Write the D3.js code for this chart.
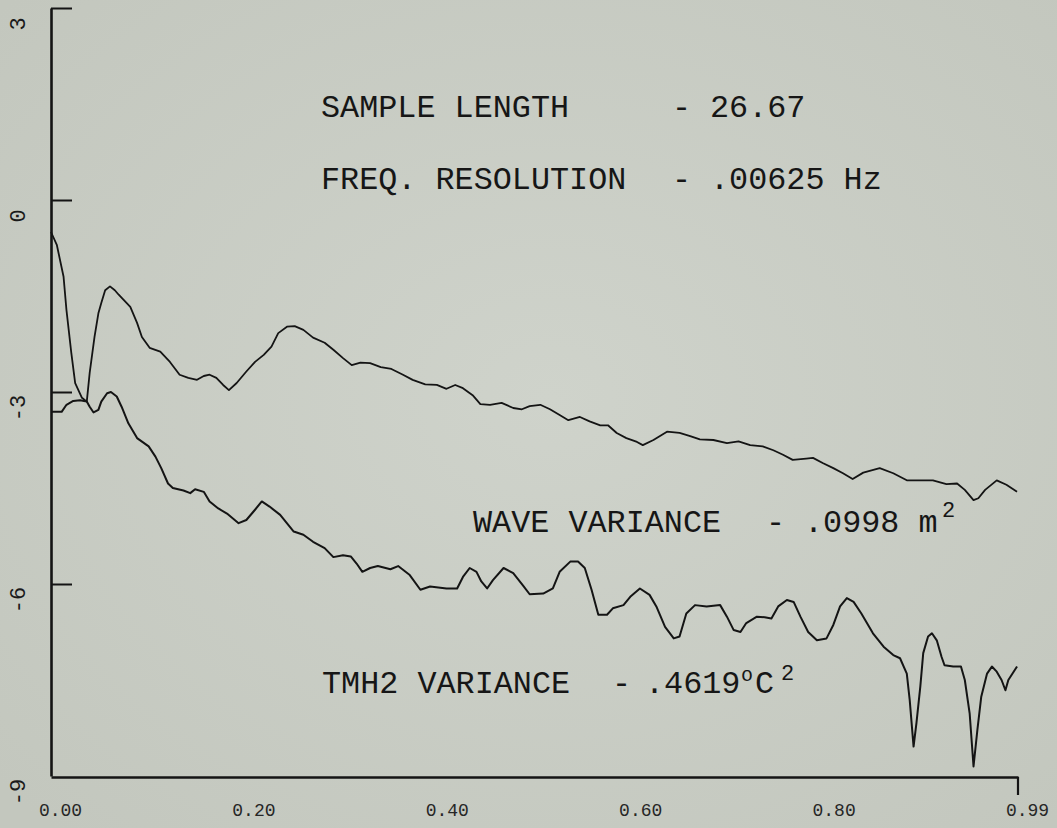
<!DOCTYPE html>
<html><head><meta charset="utf-8">
<script src="https://cdn.jsdelivr.net/npm/d3@7"></script>
<style>html,body{margin:0;padding:0;background:#cacdc5;} svg{display:block}</style>
</head><body><svg id="c" width="1057" height="828"></svg>
<script>
// ---- data ----
const upperFreq = [0,.006,.013,.016,.021,.025,.032,.037,.040,.045,
 .049,.052,.056,.061,.066,.070,.082,.089,.094,.102,
 .113,.123,.133,.142,.151,.158,.164,.171,.178,.184,
 .192,.202,.211,.220,.228,.235,.244,.252,.261,.271,
 .283,.292,.302,.311,.320,.330,.341,.352,.364,.374,
 .387,.399,.409,.418,.426,.436,.444,.454,.466,.478,
 .487,.495,.506,.516,.526,.535,.547,.557,.568,.576,
 .585,.595,.606,.612,.623,.637,.650,.661,.671,.685,
 .699,.711,.723,.736,.747,.757,.767,.781,.788,.798,
 .809,.819,.829,.840,.857,.871,.885,.899,.912,.926,
 .937,.945,.954,.959,.966,.978,.988,.999];
const upperLog = [-0.50,-0.70,-1.20,-1.72,-2.39,-2.86,-3.09,-3.15,-2.70,-2.14,
 -1.77,-1.61,-1.41,-1.35,-1.41,-1.48,-1.67,-1.92,-2.14,-2.31,
 -2.37,-2.53,-2.73,-2.78,-2.81,-2.75,-2.73,-2.78,-2.89,-2.97,
 -2.86,-2.68,-2.53,-2.42,-2.29,-2.08,-1.98,-1.97,-2.03,-2.15,
 -2.23,-2.34,-2.47,-2.58,-2.54,-2.55,-2.61,-2.64,-2.73,-2.81,
 -2.88,-2.89,-2.95,-2.89,-2.94,-3.05,-3.19,-3.20,-3.17,-3.25,
 -3.27,-3.22,-3.20,-3.27,-3.36,-3.44,-3.39,-3.46,-3.52,-3.52,
 -3.64,-3.72,-3.78,-3.83,-3.75,-3.62,-3.64,-3.69,-3.74,-3.75,
 -3.80,-3.77,-3.83,-3.85,-3.91,-3.98,-4.06,-4.04,-4.03,-4.11,
 -4.19,-4.27,-4.36,-4.26,-4.19,-4.27,-4.38,-4.38,-4.38,-4.44,
 -4.43,-4.53,-4.69,-4.66,-4.53,-4.38,-4.45,-4.56];

const lowerFreq = [0,.011,.016,.023,.030,.037,.040,.044,.049,.052,
 .058,.062,.068,.073,.080,.089,.101,.108,.114,.121,
 .126,.137,.144,.149,.158,.164,.173,.182,.194,.202,
 .211,.218,.226,.237,.251,.261,.271,.283,.292,.302,
 .310,.316,.322,.330,.338,.351,.359,.371,.382,.392,
 .409,.420,.426,.433,.440,.445,.451,.457,.468,.478,
 .488,.495,.509,.519,.526,.537,.545,.552,.559,.566,
 .575,.581,.592,.599,.609,.619,.626,.635,.644,.650,
 .657,.666,.678,.692,.699,.706,.713,.719,.730,.738,
 .745,.752,.761,.768,.775,.783,.792,.802,.809,.816,
 .823,.830,.838,.850,.861,.871,.878,.885,.888,.892,
 .895,.899,.902,.907,.911,.916,.921,.924,.933,.941,
 .945,.950,.954,.958,.962,.968,.973,.978,.983,.987,
 .990,.999];
const lowerLog = [-3.31,-3.31,-3.20,-3.14,-3.13,-3.15,-3.23,-3.32,-3.28,-3.15,
 -3.02,-3.00,-3.07,-3.23,-3.49,-3.72,-3.85,-4.01,-4.19,-4.43,
 -4.50,-4.54,-4.58,-4.52,-4.56,-4.71,-4.82,-4.90,-5.05,-5.00,
 -4.84,-4.71,-4.79,-4.92,-5.18,-5.23,-5.34,-5.44,-5.58,-5.55,
 -5.57,-5.68,-5.81,-5.75,-5.72,-5.77,-5.72,-5.86,-6.09,-6.04,
 -6.07,-6.07,-5.89,-5.75,-5.81,-5.96,-6.07,-5.94,-5.75,-5.83,
 -6.02,-6.16,-6.15,-6.07,-5.81,-5.65,-5.65,-5.75,-6.09,-6.48,
 -6.48,-6.38,-6.33,-6.20,-6.07,-6.17,-6.35,-6.67,-6.85,-6.82,
 -6.46,-6.33,-6.35,-6.33,-6.51,-6.72,-6.75,-6.61,-6.51,-6.52,
 -6.54,-6.35,-6.25,-6.28,-6.51,-6.75,-6.88,-6.85,-6.64,-6.35,
 -6.22,-6.28,-6.46,-6.77,-6.98,-7.11,-7.16,-7.40,-7.81,-8.54,
 -8.17,-7.60,-7.08,-6.82,-6.77,-6.88,-7.14,-7.27,-7.29,-7.29,
 -7.50,-8.02,-8.85,-8.28,-7.76,-7.40,-7.29,-7.37,-7.50,-7.66,
 -7.50,-7.29];

const xTickValues = [0, 0.2, 0.4, 0.6, 0.8, 1.0];
const xTickLabels = ["0.00", "0.20", "0.40", "0.60", "0.80", "0.99"];
const yTickValues = [3, 0, -3, -6];
const yLabelValues = [3, 0, -3, -6, -9];
const yLabelTexts = ["3", "0", "-3", "-6", "-9"];

const noteLabels = ["SAMPLE LENGTH", "FREQ. RESOLUTION", "WAVE VARIANCE", "TMH2 VARIANCE"];
const noteValues = ["26.67", ".00625 Hz", ".0998 m", ".4619"];

// ---- drawing ----
const svg = d3.select("#c");
const INK = "#141414";
const MONO = "'Liberation Mono', 'DejaVu Sans Mono', monospace";

const defs = svg.append("defs");
const grad = defs.append("radialGradient").attr("id", "bg")
  .attr("cx", "52%").attr("cy", "48%").attr("r", "70%");
grad.append("stop").attr("offset", "0%").attr("stop-color", "#cfd3cb");
grad.append("stop").attr("offset", "100%").attr("stop-color", "#c3c7be");
svg.append("rect").attr("width", 1057).attr("height", 828).attr("fill", "url(#bg)");

const x = d3.scaleLinear().domain([0, 1]).range([51, 1018]);
const y = d3.scaleLinear().domain([-9, 3]).range([776, 8]);

// y axis
const gy = svg.append("g").attr("transform", "translate(51,0)")
  .call(d3.axisLeft(y).tickValues(yTickValues).tickSize(-21).tickSizeOuter(0).tickFormat(""));
gy.select(".domain").attr("stroke", INK).attr("stroke-width", 2.6);
gy.selectAll(".tick line").attr("stroke", INK).attr("stroke-width", 2);

svg.append("g").selectAll("text").data(yLabelValues).join("text")
  .attr("transform", (d) => `translate(25,${y(d) + 16}) rotate(-90)`)
  .attr("text-anchor", "middle")
  .attr("font-family", MONO).attr("font-size", 22).attr("fill", "#1a1a1a")
  .text((d, i) => yLabelTexts[i]);

// x axis
const gx = svg.append("g").attr("transform", `translate(0,${y(-9) + 1})`)
  .call(d3.axisBottom(x).tickValues(xTickValues).tickSize(0).tickSizeOuter(0)
    .tickFormat((d, i) => xTickLabels[i]));
gx.select(".domain").attr("stroke", INK).attr("stroke-width", 2.6);
gx.selectAll(".tick text").attr("y", 39).attr("dy", 0).attr("dx", 9)
  .attr("font-family", MONO).attr("font-size", 18).attr("fill", "#262626");
svg.append("line")
  .attr("x1", x(1)).attr("x2", x(1)).attr("y1", y(-9) + 1).attr("y2", y(-9) + 19)
  .attr("stroke", INK).attr("stroke-width", 2.2);

// curves
const line = d3.line().x((d) => x(d[0])).y((d) => y(d[1]));
svg.append("path").datum(d3.zip(upperFreq, upperLog))
  .attr("d", line).attr("fill", "none").attr("stroke", INK).attr("stroke-width", 1.8)
  .attr("stroke-linejoin", "round");
svg.append("path").datum(d3.zip(lowerFreq, lowerLog))
  .attr("d", line).attr("fill", "none").attr("stroke", INK).attr("stroke-width", 2)
  .attr("stroke-linejoin", "round");

// annotations (typewriter)
const FS = 31.8;
function note(labelX, baseY, label, dashX, valX, value) {
  const t = svg.append("text").attr("font-family", MONO).attr("font-size", FS)
    .attr("fill", "#161616").attr("y", baseY);
  t.append("tspan").attr("x", labelX).text(label);
  t.append("tspan").attr("x", dashX).text("-");
  t.append("tspan").attr("x", valX).text(value);
  return t;
}
note(321, 117, noteLabels[0], 672, 710, noteValues[0]);
note(321, 189, noteLabels[1], 672, 710, noteValues[1]);
note(473, 532, noteLabels[2], 766, 804, noteValues[2]);
svg.append("text").attr("x", 942).attr("y", 517).attr("font-family", MONO)
  .attr("font-size", 22).attr("fill", "#161616").text("2");
note(322, 693, noteLabels[3], 612, 645, noteValues[3]);
svg.append("text").attr("x", 741).attr("y", 681).attr("font-family", MONO)
  .attr("font-size", 20).attr("fill", "#161616").text("o");
svg.append("text").attr("x", 755).attr("y", 693).attr("font-family", MONO)
  .attr("font-size", FS).attr("fill", "#161616").text("C");
svg.append("text").attr("x", 781).attr("y", 680).attr("font-family", MONO)
  .attr("font-size", 22).attr("fill", "#161616").text("2");
</script></body></html>
